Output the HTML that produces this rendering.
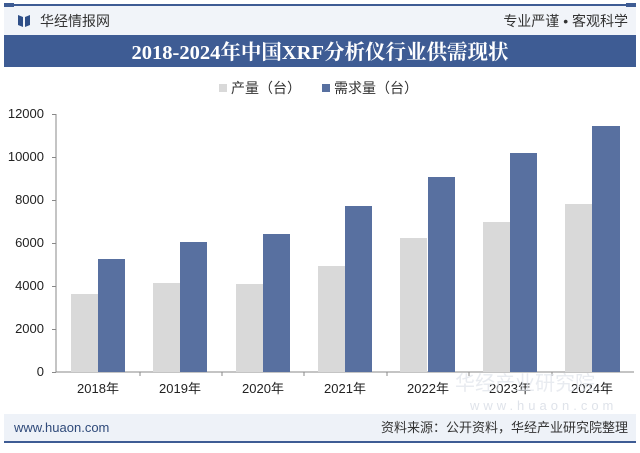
<!DOCTYPE html>
<html><head><meta charset="utf-8"><style>
body{margin:0;width:640px;height:448px;background:#fff;overflow:hidden;font-family:"Liberation Sans","Noto Sans CJK SC",sans-serif;}
</style></head><body>
<svg width="640" height="448" xmlns="http://www.w3.org/2000/svg" font-family="Liberation Sans, Noto Sans CJK SC, sans-serif">
<rect x="0" y="0" width="640" height="448" fill="#fff"/>
<rect x="4" y="6" width="632" height="29" fill="#f1f4f9"/>
<rect x="4" y="4" width="632" height="2" fill="#3e5c94"/>
<rect x="4" y="3" width="10" height="4" fill="#3e5c94"/>
<rect x="626" y="3" width="10" height="4" fill="#3e5c94"/>
<path d="M18 15 L23 17 L23 27 L18 25 Z M25 17 L30 15 L30 25 L25 27 Z" fill="#2f4f88"/>
<text x="40" y="26" font-size="14" fill="#333">华经情报网</text>
<text x="628" y="26" font-size="14" fill="#333" text-anchor="end">专业严谨 • 客观科学</text>
<rect x="4" y="35" width="632" height="32" fill="#3e5c94"/>
<text x="320" y="59" font-size="20.5" font-weight="bold" fill="#fff" text-anchor="middle" font-family="Liberation Serif, Noto Serif CJK SC, serif">2018-2024年中国XRF分析仪行业供需现状</text>
<rect x="219" y="84" width="8" height="8" fill="#d9d9d9"/>
<text x="231" y="93" font-size="14" fill="#333">产量（台）</text>
<rect x="322" y="84" width="8" height="8" fill="#5870a0"/>
<text x="334" y="93" font-size="14" fill="#333">需求量（台）</text>
<g font-size="13" fill="#222" text-anchor="end">
<text x="44" y="376">0</text><text x="44" y="333">2000</text><text x="44" y="290">4000</text><text x="44" y="247">6000</text><text x="44" y="204">8000</text><text x="44" y="161">10000</text><text x="44" y="118">12000</text>
</g>
<g stroke="#888" stroke-width="1">
<line x1="56" y1="114" x2="56" y2="372"/>
<line x1="56" y1="372" x2="634" y2="372"/>
<line x1="52" y1="114.5" x2="56" y2="114.5"/><line x1="52" y1="157.5" x2="56" y2="157.5"/><line x1="52" y1="200.5" x2="56" y2="200.5"/><line x1="52" y1="243.5" x2="56" y2="243.5"/><line x1="52" y1="286.5" x2="56" y2="286.5"/><line x1="52" y1="329.5" x2="56" y2="329.5"/><line x1="52" y1="372.5" x2="56" y2="372.5"/>
<line x1="140" y1="372" x2="140" y2="376"/><line x1="222" y1="372" x2="222" y2="376"/><line x1="304" y1="372" x2="304" y2="376"/><line x1="387" y1="372" x2="387" y2="376"/><line x1="469" y1="372" x2="469" y2="376"/><line x1="552" y1="372" x2="552" y2="376"/>
</g>
<g fill="#d9d9d9">
<rect x="71" y="294" width="27" height="78"/>
<rect x="153" y="283" width="27" height="89"/>
<rect x="236" y="284" width="27" height="88"/>
<rect x="318" y="266" width="27" height="106"/>
<rect x="400" y="238" width="27" height="134"/>
<rect x="483" y="222" width="27" height="150"/>
<rect x="565" y="204" width="27" height="168"/>
</g>
<g fill="#5870a0">
<rect x="98" y="259" width="27" height="113"/>
<rect x="180" y="242" width="27" height="130"/>
<rect x="263" y="234" width="27" height="138"/>
<rect x="345" y="206" width="27" height="166"/>
<rect x="428" y="177" width="27" height="195"/>
<rect x="510" y="153" width="27" height="219"/>
<rect x="592" y="126" width="28" height="246"/>
</g>
<g font-size="13" fill="#222" text-anchor="middle">
<text x="98" y="393">2018年</text><text x="180" y="393">2019年</text><text x="263" y="393">2020年</text><text x="345" y="393">2021年</text><text x="428" y="393">2022年</text><text x="510" y="393">2023年</text><text x="592" y="393">2024年</text>
</g>
<text x="455" y="390" font-size="20" fill="#dfe3ea" opacity="0.7">华经产业研究院</text>
<text x="470" y="410" font-size="13" fill="#dfe3ea" letter-spacing="4">www.huaon.com</text>
<rect x="4" y="414" width="632" height="27" fill="#eef2f8"/>
<rect x="4" y="441" width="632" height="2" fill="#3e5c94"/>
<text x="14" y="432" font-size="13" fill="#2f4a7a">www.huaon.com</text>
<text x="628" y="432" font-size="13" fill="#333" text-anchor="end">资料来源：公开资料，华经产业研究院整理</text>
</svg>
</body></html>
